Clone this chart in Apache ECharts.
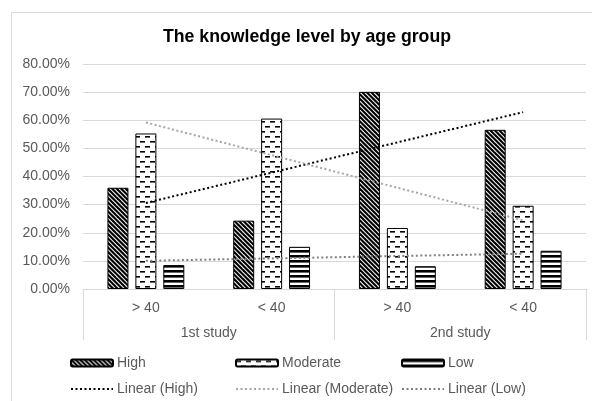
<!DOCTYPE html>
<html>
<head>
<meta charset="utf-8">
<script src="https://cdn.jsdelivr.net/npm/echarts@6/dist/echarts.min.js"></script>
<style>
  html, body { margin: 0; padding: 0; background: #fff; }
  #chart { width: 592px; height: 401px; }
</style>
</head>
<body>
<div id="chart"></div>
<script>
// Knowledge level (share of respondents) per age group in two studies
const categories = ['> 40', '< 40', '> 40', '< 40'];
const studies = ['1st study', '2nd study'];
const high = [36.0, 24.3, 70.1, 56.6];
const moderate = [55.3, 60.6, 21.7, 29.6];
const low = [8.5, 15.0, 8.1, 13.6];
const yMin = 0, yMax = 80, yStep = 10;

const FONT = "'Liberation Sans', Arial, sans-serif";
const TEXT = '#595959';
const RULE = '#d9d9d9';

// Least-squares straight line over category positions 1..n
function linearTrend(values) {
  const n = values.length;
  let sx = 0, sy = 0, sxx = 0, sxy = 0;
  values.forEach((y, i) => {
    const x = i + 1;
    sx += x; sy += y; sxx += x * x; sxy += x * y;
  });
  const slope = (n * sxy - sx * sy) / (n * sxx - sx * sx);
  const icpt = (sy - slope * sx) / n;
  return values.map((_, i) => +(icpt + slope * (i + 1)).toFixed(3));
}

// Hatch fills drawn on small tiles
function tile(w, h, draw) {
  const c = document.createElement('canvas');
  c.width = w; c.height = h;
  const ctx = c.getContext('2d');
  ctx.fillStyle = '#fff';
  ctx.fillRect(0, 0, w, h);
  ctx.fillStyle = '#000';
  ctx.strokeStyle = '#000';
  draw(ctx, w, h);
  return { image: c, repeat: 'repeat' };
}

const diagFill = tile(9, 9, (ctx, w, h) => {
  ctx.lineWidth = 2.2;
  for (let c = -18; c <= 18; c += 4.5) {
    ctx.beginPath();
    ctx.moveTo(c - 2, -2);
    ctx.lineTo(c + w + 2, h + 2);
    ctx.stroke();
  }
});

const dashFill = tile(10, 10, (ctx) => {
  ctx.fillRect(0, 1, 5, 1.6);
  ctx.fillRect(5, 6, 5, 1.6);
});

const stripeFill = tile(10, 5, (ctx, w) => {
  ctx.fillRect(0, 0, w, 2.6);
});

function barSeries(name, data, fill) {
  return {
    name, type: 'bar', data,
    xAxisIndex: 0, yAxisIndex: 0,
    barWidth: 21, barGap: '33%',
    itemStyle: { color: fill, borderColor: '#000', borderWidth: 1 },
    emphasis: { disabled: true },
    z: 2
  };
}

function trendSeries(name, data, color) {
  return {
    name, type: 'line', data: linearTrend(data),
    xAxisIndex: 0, yAxisIndex: 0,
    symbol: 'none', silent: true,
    lineStyle: { color, width: 2, type: [2, 2.5] },
    itemStyle: { color },
    emphasis: { disabled: true },
    z: 4
  };
}

function legendAt(name, left, top, lineOnly) {
  const lg = {
    data: [name], left, top,
    itemWidth: 42, itemHeight: 7, itemGap: 0,
    selectedMode: false,
    textStyle: { fontFamily: FONT, fontSize: 14, color: TEXT, padding: [0, 0, 0, -1] }
  };
  if (lineOnly) {
    // keep only the dotted stroke in the key, no marker
    lg.itemStyle = { opacity: 0 };
  }
  return lg;
}

const chart = echarts.init(document.getElementById('chart'), null, { renderer: 'canvas' });
chart.setOption({
  animation: false,
  backgroundColor: '#fff',
  title: {
    text: 'The knowledge level by age group',
    left: 302, top: 23, textAlign: 'center',
    textStyle: { fontFamily: FONT, fontSize: 17.7, fontWeight: 'bold', color: '#000' }
  },
  graphic: [{
    type: 'rect', silent: true, z: -1,
    shape: { x: 11.5, y: 12.5, width: 600, height: 400 },
    style: { fill: 'none', stroke: RULE, lineWidth: 1 }
  }],
  legend: [
    legendAt('High', 65, 351),
    legendAt('Moderate', 230, 351),
    legendAt('Low', 396, 351),
    legendAt('Linear (High)', 65, 377, true),
    legendAt('Linear (Moderate)', 230, 377, true),
    legendAt('Linear (Low)', 396, 377, true)
  ],
  grid: { left: 83, right: 6, top: 64, bottom: 112, containLabel: false },
  xAxis: [{
    type: 'category', data: categories, position: 'bottom',
    axisLine: { lineStyle: { color: RULE, width: 1 } },
    axisTick: { show: false },
    axisLabel: { fontFamily: FONT, fontSize: 14, color: TEXT, margin: 12 },
    splitLine: { show: false }
  }, {
    type: 'category', data: studies, position: 'bottom',
    axisLine: { show: false },
    axisTick: { show: true, length: 51, lineStyle: { color: RULE, width: 1 } },
    axisLabel: { fontFamily: FONT, fontSize: 14, color: TEXT, margin: 37 },
    splitLine: { show: false }
  }],
  yAxis: {
    type: 'value', min: yMin, max: yMax, interval: yStep,
    axisLine: { show: false }, axisTick: { show: false },
    axisLabel: {
      fontFamily: FONT, fontSize: 14, color: TEXT, margin: 13,
      formatter: v => v.toFixed(2) + '%'
    },
    splitLine: { lineStyle: { color: RULE, width: 1 } }
  },
  series: [
    barSeries('High', high, diagFill),
    barSeries('Moderate', moderate, dashFill),
    barSeries('Low', low, stripeFill),
    trendSeries('Linear (High)', high, '#000000'),
    trendSeries('Linear (Moderate)', moderate, '#a6a6a6'),
    trendSeries('Linear (Low)', low, '#808080')
  ]
});
</script>
</body>
</html>
